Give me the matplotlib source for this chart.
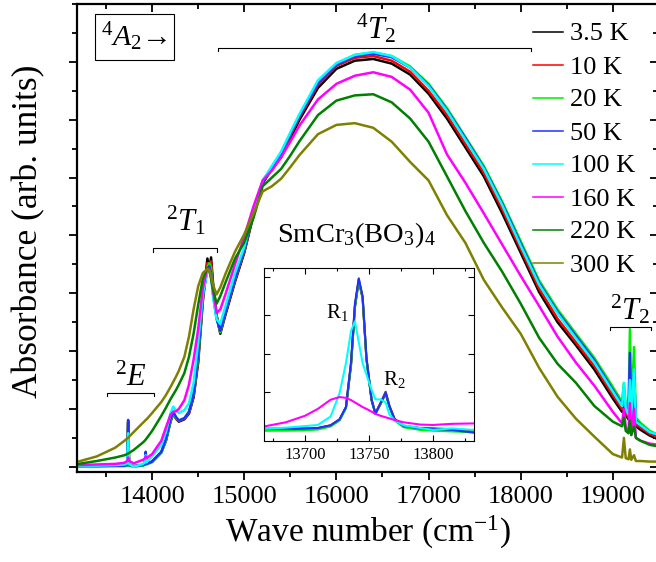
import matplotlib
matplotlib.use("Agg")
import matplotlib.pyplot as plt
from matplotlib.lines import Line2D
from matplotlib.ticker import MultipleLocator

plt.rcParams["font.family"] = ["Liberation Serif", "DejaVu Serif"]
plt.rcParams["mathtext.fontset"] = "custom"
plt.rcParams["mathtext.rm"] = "Liberation Serif"
plt.rcParams["mathtext.it"] = "Liberation Serif:italic"
plt.rcParams["mathtext.bf"] = "Liberation Serif:bold"

# ---- main spectra (wave number grid, cm^-1) ----
wavenumber = [13200, 13400, 13600, 13700, 13730, 13740, 13750, 13800, 13900, 13920,
              13930, 13940, 14000, 14100, 14150, 14200, 14230, 14260, 14290, 14350,
              14400, 14450, 14500, 14550, 14600, 14620, 14640, 14660, 14700, 14740,
              14800, 14900, 15000, 15100, 15200, 15300, 15400, 15500, 15600, 15800,
              16000, 16200, 16400, 16600, 16800, 17000, 17200, 17400, 17600, 17800,
              18000, 18200, 18400, 18600, 18800, 19000, 19100, 19120, 19140, 19170,
              19185, 19200, 19230, 19250, 19300, 19400, 19500]

abs_3p5K = [0.02, 0.02, 0.02, 0.02, 0.03, 0.75, 0.03, 0.01, 0.03, 0.04,
            0.22, 0.05, 0.09, 0.25, 0.45, 0.78, 0.92, 0.83, 0.78, 0.82,
            0.92, 1.20, 1.80, 2.85, 3.60, 3.42, 3.62, 3.20, 2.62, 2.30,
            2.65, 3.20, 3.70, 4.35, 4.90, 5.15, 5.35, 5.68, 6.00, 6.55,
            6.88, 7.02, 7.05, 6.97, 6.78, 6.45, 6.02, 5.52, 5.02, 4.38,
            3.70, 3.02, 2.50, 2.10, 1.68, 1.18, 0.95, 1.20, 0.90, 0.82,
            1.60, 0.78, 1.40, 0.70, 0.64, 0.54, 0.47]
abs_10K = [0.02, 0.02, 0.02, 0.02, 0.03, 0.78, 0.03, 0.01, 0.03, 0.04,
           0.23, 0.05, 0.09, 0.25, 0.46, 0.80, 0.93, 0.84, 0.79, 0.83,
           0.93, 1.22, 1.85, 2.90, 3.52, 3.45, 3.55, 3.10, 2.60, 2.32,
           2.68, 3.22, 3.72, 4.37, 4.92, 5.17, 5.38, 5.72, 6.04, 6.60,
           6.93, 7.07, 7.10, 7.02, 6.83, 6.50, 6.08, 5.58, 5.08, 4.45,
           3.76, 3.08, 2.56, 2.15, 1.74, 1.24, 1.00, 1.25, 0.95, 0.85,
           1.70, 0.82, 1.45, 0.74, 0.68, 0.57, 0.50]
abs_20K = [0.00, 0.00, 0.01, 0.01, 0.02, 0.78, 0.02, 0.00, 0.02, 0.03,
           0.23, 0.04, 0.08, 0.24, 0.45, 0.80, 0.93, 0.84, 0.80, 0.84,
           0.95, 1.25, 1.90, 2.92, 3.45, 3.52, 3.45, 3.05, 2.58, 2.33,
           2.70, 3.25, 3.75, 4.40, 4.93, 5.18, 5.42, 5.76, 6.08, 6.65,
           6.97, 7.12, 7.16, 7.10, 6.92, 6.62, 6.20, 5.70, 5.20, 4.58,
           3.90, 3.22, 2.72, 2.30, 1.88, 1.38, 1.12, 1.45, 1.05, 0.95,
           2.38, 0.92, 2.07, 0.85, 0.76, 0.62, 0.55]
abs_50K = [0.02, 0.02, 0.02, 0.02, 0.03, 0.81, 0.03, 0.01, 0.03, 0.04,
           0.26, 0.05, 0.09, 0.26, 0.48, 0.83, 0.95, 0.86, 0.80, 0.84,
           0.95, 1.25, 1.95, 2.95, 3.42, 3.47, 3.35, 3.00, 2.55, 2.35,
           2.70, 3.25, 3.75, 4.40, 4.92, 5.18, 5.42, 5.75, 6.07, 6.63,
           6.95, 7.10, 7.14, 7.08, 6.90, 6.60, 6.17, 5.68, 5.17, 4.55,
           3.86, 3.18, 2.68, 2.26, 1.84, 1.33, 1.08, 1.30, 1.00, 0.92,
           1.97, 0.88, 1.60, 0.80, 0.72, 0.60, 0.53]
abs_100K = [0.02, 0.02, 0.03, 0.04, 0.06, 0.58, 0.05, 0.00, 0.05, 0.07,
            0.20, 0.08, 0.18, 0.38, 0.60, 0.93, 1.04, 0.97, 0.93, 0.98,
            1.10, 1.45, 2.15, 2.98, 3.38, 3.40, 3.28, 2.95, 2.55, 2.47,
            2.80, 3.35, 3.80, 4.45, 4.95, 5.20, 5.45, 5.78, 6.10, 6.68,
            6.98, 7.12, 7.17, 7.10, 6.90, 6.58, 6.15, 5.65, 5.15, 4.52,
            3.82, 3.15, 2.65, 2.22, 1.80, 1.30, 1.05, 1.45, 1.00, 0.90,
            1.50, 0.88, 1.68, 0.78, 0.72, 0.60, 0.55]
abs_160K = [0.03, 0.04, 0.05, 0.07, 0.10, 0.16, 0.10, 0.06, 0.12, 0.14,
            0.18, 0.15, 0.22, 0.45, 0.68, 0.90, 0.95, 0.96, 1.00, 1.15,
            1.42, 1.85, 2.38, 3.08, 3.44, 3.42, 3.30, 3.05, 2.66, 2.72,
            3.00, 3.50, 3.98, 4.50, 4.95, 5.12, 5.35, 5.62, 5.90, 6.35,
            6.62, 6.76, 6.82, 6.74, 6.52, 6.12, 5.40, 4.91, 4.38, 3.84,
            3.30, 2.78, 2.25, 1.80, 1.40, 0.95, 0.75, 1.00, 0.68, 0.60,
            1.10, 0.55, 1.00, 0.50, 0.45, 0.40, 0.38]
abs_220K = [0.05, 0.10, 0.16, 0.20, 0.22, 0.23, 0.24, 0.29, 0.42, 0.45,
            0.47, 0.49, 0.62, 0.88, 1.02, 1.17, 1.25, 1.33, 1.42, 1.62,
            1.90, 2.30, 2.80, 3.25, 3.44, 3.40, 3.25, 3.08, 2.82, 2.95,
            3.20, 3.60, 3.88, 4.30, 4.85, 5.00, 5.15, 5.38, 5.63, 6.08,
            6.33, 6.42, 6.44, 6.30, 6.02, 5.62, 5.02, 4.42, 3.87, 3.37,
            2.82, 2.23, 1.78, 1.45, 1.05, 0.78, 0.70, 0.85, 0.62, 0.58,
            0.80, 0.55, 0.70, 0.50, 0.45, 0.38, 0.35]
abs_300K = [0.09, 0.18, 0.33, 0.45, 0.49, 0.50, 0.52, 0.60, 0.76, 0.79,
            0.81, 0.82, 0.93, 1.12, 1.24, 1.38, 1.47, 1.56, 1.66, 1.90,
            2.25, 2.72, 3.12, 3.35, 3.42, 3.40, 3.30, 3.15, 2.98, 3.10,
            3.35, 3.72, 4.02, 4.38, 4.76, 4.85, 4.98, 5.18, 5.39, 5.75,
            5.91, 5.94, 5.86, 5.62, 5.27, 4.95, 4.35, 3.87, 3.23, 2.75,
            2.30, 1.71, 1.21, 0.83, 0.52, 0.22, 0.16, 0.50, 0.15, 0.13,
            0.30, 0.12, 0.20, 0.10, 0.10, 0.09, 0.09]

labels = ["3.5 K", "10 K", "20 K", "50 K", "100 K", "160 K", "220 K", "300 K"]
colors = ["#000000", "#ff0000", "#00ee00", "#2030ff", "#00ffff", "#ff00ff", "#008000", "#808000"]

# ---- inset: R-lines of the 2E level ----
inset_wn = [13668, 13685, 13700, 13710, 13720, 13727, 13732, 13736, 13739, 13742,
            13745, 13748, 13752, 13755, 13759, 13763, 13766, 13770, 13777, 13790,
            13800, 13815, 13832]
inset_3p5K = [0.02, 0.02, 0.03, 0.04, 0.11, 0.26, 0.58, 1.70, 3.20, 3.90,
              3.45, 1.85, 0.78, 0.43, 0.68, 0.95, 0.60, 0.27, 0.09, 0.03,
              0.02, -0.01, -0.06]
inset_10K = [0.03, 0.03, 0.04, 0.05, 0.12, 0.27, 0.59, 1.75, 3.25, 3.94,
             3.48, 1.88, 0.80, 0.44, 0.70, 1.00, 0.63, 0.29, 0.11, 0.05,
             0.04, 0.02, -0.03]
inset_20K = [-0.02, -0.02, -0.01, 0.01, 0.09, 0.25, 0.57, 1.72, 3.22, 3.92,
             3.46, 1.86, 0.78, 0.42, 0.69, 0.97, 0.60, 0.25, 0.07, 0.00,
             -0.02, -0.04, -0.06]
inset_50K = [0.03, 0.03, 0.04, 0.05, 0.12, 0.28, 0.60, 1.80, 3.30, 3.97,
             3.50, 1.90, 0.79, 0.42, 0.70, 0.98, 0.62, 0.28, 0.10, 0.04,
             0.03, 0.00, -0.07]
inset_100K = [0.03, 0.06, 0.10, 0.13, 0.35, 0.96, 1.75, 2.60, 2.84, 2.30,
              1.75, 1.45, 1.05, 0.80, 0.80, 0.72, 0.40, 0.25, 0.12, 0.05,
              0.00, 0.04, 0.00]
inset_160K = [0.09, 0.20, 0.37, 0.55, 0.79, 0.86, 0.84, 0.78, 0.72, 0.66,
              0.60, 0.55, 0.48, 0.42, 0.37, 0.33, 0.30, 0.26, 0.20, 0.14,
              0.13, 0.16, 0.17]

main_series = [abs_3p5K, abs_10K, abs_20K, abs_50K, abs_100K, abs_160K, abs_220K, abs_300K]
inset_series = [inset_3p5K, inset_10K, inset_20K, inset_50K, inset_100K, inset_160K]

W, H = 656, 562


def add_mirror_ticks(ax, lw, major_len, minor_len):
    top = ax.secondary_xaxis("top")
    top.set_xticks(ax.get_xticks())
    top.xaxis.set_minor_locator(ax.xaxis.get_minor_locator())
    top.tick_params(which="both", direction="in", labeltop=False, width=lw)
    top.tick_params(which="major", length=major_len)
    top.tick_params(which="minor", length=minor_len)
    right = ax.secondary_yaxis("right")
    right.set_yticks(ax.get_yticks())
    right.yaxis.set_minor_locator(ax.yaxis.get_minor_locator())
    right.tick_params(which="both", direction="in", labelright=False, width=lw)
    right.tick_params(which="major", length=major_len)
    right.tick_params(which="minor", length=minor_len)
    for sp in ("top", "right", "bottom", "left"):
        top.spines[sp].set_linewidth(lw)
        right.spines[sp].set_linewidth(lw)


fig = plt.figure(figsize=(W / 100, H / 100), dpi=100)
ax = fig.add_axes([77 / W, 90 / H, 581 / W, 468 / H])

for y, c, lab in zip(main_series, colors, labels):
    ax.plot(wavenumber, y, color=c, lw=1.8, label=lab)

ax.set_xlim(13185, 19490)
ax.set_ylim(-0.09, 8.0)
ax.set_xticks([14000, 15000, 16000, 17000, 18000, 19000])
ax.xaxis.set_minor_locator(MultipleLocator(500))
ax.set_yticks([0, 1, 2, 3, 4, 5, 6, 7])
ax.yaxis.set_minor_locator(MultipleLocator(0.5))
ax.set_yticklabels([])
ax.tick_params(which="both", direction="out", width=1.3, labelsize=19, pad=4)
ax.tick_params(which="major", length=6)
ax.tick_params(which="minor", length=3.5)
for sp in ax.spines.values():
    sp.set_linewidth(1.6)
add_mirror_ticks(ax, 1.3, 6, 3.5)

ax.set_xlabel("Wave number (cm$^{\\mathregular{-1}}$)", fontsize=24, labelpad=4)
ax.set_ylabel("Absorbance (arb. units)", fontsize=25.5)
ax.yaxis.set_label_coords(-0.055, 0.515)

# level labels and brackets
ax.text(13810, 7.43, "$^4A_2$\u2192", fontsize=21.5, ha="center", va="center",
        bbox=dict(boxstyle="square,pad=0.22", fc="white", ec="black", lw=0.8))
brackets = [
    (14715, 18109, 7.24, r"$^4T_2$", 16435, 7.41),
    (14011, 14707, 3.78, r"$^2T_1$", 14370, 4.09),
    (13511, 14022, 1.28, r"$^2E$", 13772, 1.40),
    (18967, 19413, 2.42, r"$^2T_2$", 19185, 2.54),
]
for x0, x1, yb, txt, xt, yt in brackets:
    ax.plot([x0, x0, x1, x1], [yb - 0.06, yb, yb, yb - 0.06], color="black", lw=0.8)
    ax.text(xt, yt, txt, fontsize=22, ha="center", va="baseline")
ax.text(16218, 3.89, r"SmCr$_3$(BO$_3$)$_4$", fontsize=20.5, ha="center", va="baseline")

# legend drawn entry by entry (thin handles, fixed row pitch)
for i, (lab, c) in enumerate(zip(labels, colors)):
    yf = 1 - (32 + 33 * i) / H
    fig.add_artist(Line2D([533 / W, 563 / W], [yf, yf], color=c, lw=1.1))
    fig.text(570 / W, yf, lab, fontsize=19, ha="left", va="center_baseline")

# inset
axi = fig.add_axes([264 / W, 121 / H, 210 / W, 173 / H])
for y, c in zip(inset_series, colors[:6]):
    axi.plot(inset_wn, y, color=c, lw=1.5)
axi.set_xlim(13668, 13832)
axi.set_ylim(-0.29, 4.24)
axi.set_xticks([13700, 13750, 13800])
axi.xaxis.set_minor_locator(MultipleLocator(25))
axi.set_yticks([0, 1, 2, 3, 4])
axi.set_yticklabels([])
axi.tick_params(which="both", direction="in", top=True, right=True, width=0.8,
                labelsize=12, pad=4)
axi.tick_params(which="major", length=4)
axi.tick_params(which="minor", length=2.5)
for sp in axi.spines.values():
    sp.set_linewidth(0.8)
axi.text(13725, 2.93, r"R$_1$", fontsize=15, ha="center", va="baseline")
axi.text(13770, 1.18, r"R$_2$", fontsize=15, ha="center", va="baseline")

fig.savefig("out.png", dpi=100)
